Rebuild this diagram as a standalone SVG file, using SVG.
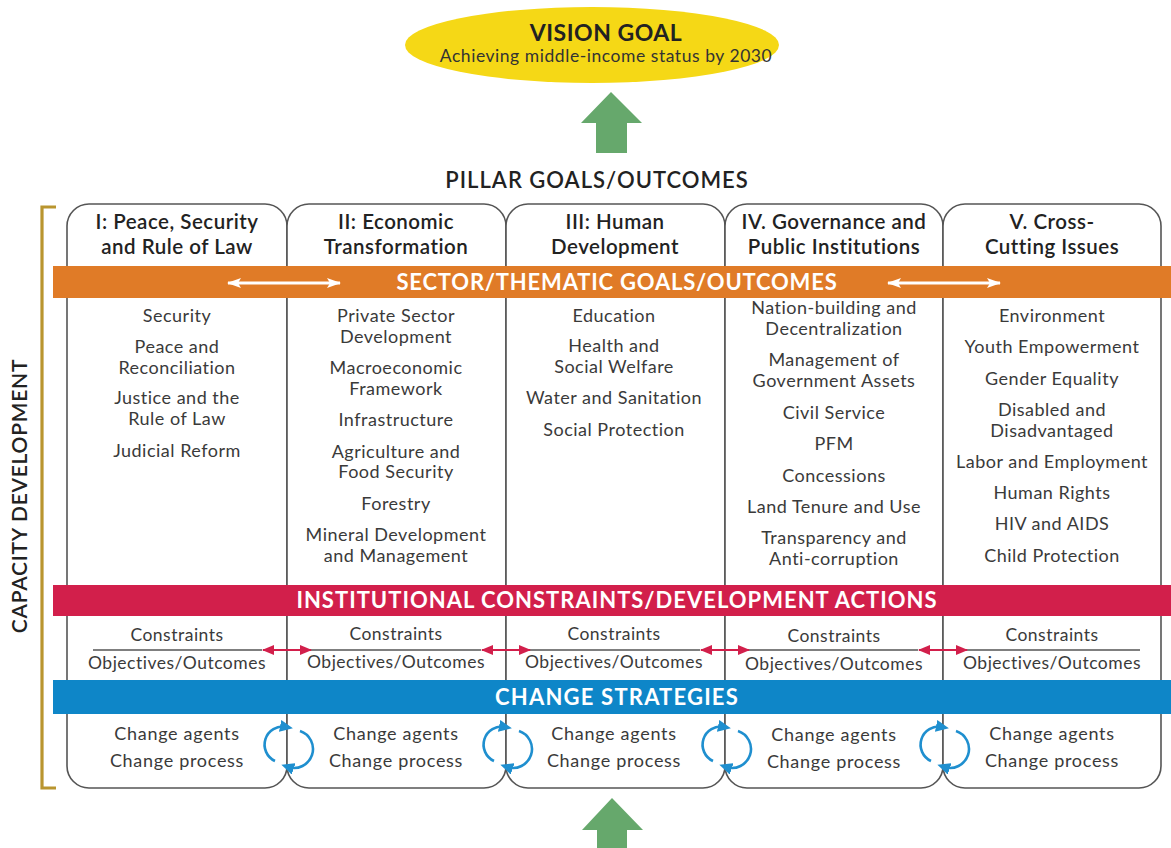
<svg xmlns="http://www.w3.org/2000/svg" width="1171" height="848" viewBox="0 0 1171 848">
<defs>
<style>
text{font-family:Lato,"Open Sans","Liberation Sans",sans-serif;text-anchor:middle}
.col{fill:#fff;stroke:#555;stroke-width:1.6}
.hd{font-size:20.5px;font-weight:600;fill:#222;letter-spacing:0.5px}
.it{font-size:18px;fill:#3a3a3a;letter-spacing:0.5px}
.co{font-size:17.5px;fill:#3a3a3a;letter-spacing:0.5px}
.ch{font-size:18px;fill:#3a3a3a;letter-spacing:0.7px}
.band{font-size:22px;font-weight:700;fill:#fff;letter-spacing:1px}
.sep{stroke:#555;stroke-width:1.6}
.red{stroke:#d21f4b;stroke-width:2;fill:none}
.wht{stroke:#fff;stroke-width:3;fill:none}
.cyc{stroke:#1f8fcf;stroke-width:2.6;fill:none}
.green{fill:#66a86c}
</style>
<marker id="mr" viewBox="0 0 12 10" refX="11" refY="5" markerWidth="12" markerHeight="10" markerUnits="userSpaceOnUse" orient="auto-start-reverse"><path d="M0 0L12 5L0 10z" fill="#d21f4b"/></marker>
<marker id="mw" viewBox="0 0 14 10" refX="13" refY="5" markerWidth="14" markerHeight="10" markerUnits="userSpaceOnUse" orient="auto-start-reverse"><path d="M0 0L14 5L0 10L3 5z" fill="#fff"/></marker>
<marker id="mb" viewBox="0 0 13 12" refX="6" refY="6" markerWidth="13" markerHeight="12" markerUnits="userSpaceOnUse" orient="auto"><path d="M0 0L13 6L0 12z" fill="#1f8fcf"/></marker>
<g id="cycle">
<path class="cyc" d="M-12 15A18 18 0 0 1 -1 -19" marker-end="url(#mb)"/>
<path class="cyc" d="M13 -15A18 18 0 0 1 1 21" marker-end="url(#mb)"/>
</g>
</defs>
<rect width="1171" height="848" fill="#fff"/>

<g id="vision">
<ellipse cx="592" cy="45" rx="187" ry="38" fill="#f5d816"/>
<text x="606" y="41" style="font-size:23px;font-weight:700;fill:#222;letter-spacing:0.5px">VISION GOAL</text>
<text x="606" y="62" style="font-size:17.5px;fill:#333;letter-spacing:0.55px">Achieving middle-income status by 2030</text>
</g>

<g id="pillar-title">
<text x="597" y="188" style="font-size:22px;font-weight:600;fill:#222;letter-spacing:1px">PILLAR GOALS/OUTCOMES</text>
</g>

<g id="capacity">
<path d="M56 207H42V788H56" fill="none" stroke="#b9952f" stroke-width="3.2"/>
<text transform="translate(27,496) rotate(-90)" style="font-size:21px;font-weight:600;fill:#222;letter-spacing:0.75px">CAPACITY DEVELOPMENT</text>
</g>

<g id="col1">
<rect class="col" x="67" y="204" width="220" height="584" rx="22"/>
<text class="hd" x="177" y="229">I: Peace, Security</text>
<text class="hd" x="177" y="254">and Rule of Law</text>
<text class="it" x="177" y="322">Security</text>
<text class="it" x="177" y="353">Peace and</text>
<text class="it" x="177" y="374">Reconciliation</text>
<text class="it" x="177" y="404">Justice and the</text>
<text class="it" x="177" y="425">Rule of Law</text>
<text class="it" x="177" y="457">Judicial Reform</text>
</g>
<g id="col2">
<rect class="col" x="287" y="204" width="219" height="584" rx="22"/>
<text class="hd" x="396" y="229">II: Economic</text>
<text class="hd" x="396" y="254">Transformation</text>
<text class="it" x="396" y="322">Private Sector</text>
<text class="it" x="396" y="343">Development</text>
<text class="it" x="396" y="374">Macroeconomic</text>
<text class="it" x="396" y="395">Framework</text>
<text class="it" x="396" y="426">Infrastructure</text>
<text class="it" x="396" y="458">Agriculture and</text>
<text class="it" x="396" y="478">Food Security</text>
<text class="it" x="396" y="510">Forestry</text>
<text class="it" x="396" y="541">Mineral Development</text>
<text class="it" x="396" y="562">and Management</text>
</g>
<g id="col3">
<rect class="col" x="506" y="204" width="219" height="584" rx="22"/>
<text class="hd" x="615" y="229">III: Human</text>
<text class="hd" x="615" y="254">Development</text>
<text class="it" x="614" y="322">Education</text>
<text class="it" x="614" y="352">Health and</text>
<text class="it" x="614" y="373">Social Welfare</text>
<text class="it" x="614" y="404">Water and Sanitation</text>
<text class="it" x="614" y="436">Social Protection</text>
</g>
<g id="col4">
<rect class="col" x="725" y="204" width="218" height="584" rx="22"/>
<text class="hd" x="834" y="229">IV. Governance and</text>
<text class="hd" x="834" y="254">Public Institutions</text>
<text class="it" x="834" y="314">Nation-building and</text>
<text class="it" x="834" y="335">Decentralization</text>
<text class="it" x="834" y="366">Management of</text>
<text class="it" x="834" y="387">Government Assets</text>
<text class="it" x="834" y="419">Civil Service</text>
<text class="it" x="834" y="450">PFM</text>
<text class="it" x="834" y="482">Concessions</text>
<text class="it" x="834" y="513">Land Tenure and Use</text>
<text class="it" x="834" y="544">Transparency and</text>
<text class="it" x="834" y="565">Anti-corruption</text>
</g>
<g id="col5">
<rect class="col" x="943" y="204" width="218" height="584" rx="22"/>
<text class="hd" x="1052" y="229">V. Cross-</text>
<text class="hd" x="1052" y="254">Cutting Issues</text>
<text class="it" x="1052" y="322">Environment</text>
<text class="it" x="1052" y="353">Youth Empowerment</text>
<text class="it" x="1052" y="385">Gender Equality</text>
<text class="it" x="1052" y="416">Disabled and</text>
<text class="it" x="1052" y="437">Disadvantaged</text>
<text class="it" x="1052" y="468">Labor and Employment</text>
<text class="it" x="1052" y="499">Human Rights</text>
<text class="it" x="1052" y="530">HIV and AIDS</text>
<text class="it" x="1052" y="562">Child Protection</text>
</g>

<g id="band-sector">
<rect x="53" y="266" width="1118" height="32" fill="#e07b27"/>
<text class="band" x="617" y="290" style="letter-spacing:0.8px">SECTOR/THEMATIC GOALS/OUTCOMES</text>
</g>
<g id="band-institutional">
<rect x="53" y="585" width="1118" height="31" fill="#d21f4b"/>
<text class="band" x="617" y="608">INSTITUTIONAL CONSTRAINTS/DEVELOPMENT ACTIONS</text>
</g>
<g id="band-change">
<rect x="53" y="680" width="1118" height="34" fill="#0e86c8"/>
<text class="band" x="617" y="705" style="letter-spacing:1.2px">CHANGE STRATEGIES</text>
</g>

<g id="constraints">
<text class="co" x="177" y="641">Constraints</text>
<text class="co" x="177" y="669">Objectives/Outcomes</text>
<text class="co" x="396" y="640">Constraints</text>
<text class="co" x="396" y="668">Objectives/Outcomes</text>
<text class="co" x="614" y="640">Constraints</text>
<text class="co" x="614" y="668">Objectives/Outcomes</text>
<text class="co" x="834" y="642">Constraints</text>
<text class="co" x="834" y="670">Objectives/Outcomes</text>
<text class="co" x="1052" y="641">Constraints</text>
<text class="co" x="1052" y="669">Objectives/Outcomes</text>
<line class="sep" x1="93" y1="650" x2="262" y2="650"/>
<line class="sep" x1="311" y1="650" x2="481" y2="650"/>
<line class="sep" x1="530" y1="650" x2="700" y2="650"/>
<line class="sep" x1="749" y1="650" x2="918" y2="650"/>
<line class="sep" x1="967" y1="650" x2="1140" y2="650"/>
</g>

<g id="change">
<text class="ch" x="177" y="740">Change agents</text>
<text class="ch" x="177" y="767">Change process</text>
<text class="ch" x="396" y="740">Change agents</text>
<text class="ch" x="396" y="767">Change process</text>
<text class="ch" x="614" y="740">Change agents</text>
<text class="ch" x="614" y="767">Change process</text>
<text class="ch" x="834" y="741">Change agents</text>
<text class="ch" x="834" y="768">Change process</text>
<text class="ch" x="1052" y="740">Change agents</text>
<text class="ch" x="1052" y="767">Change process</text>
</g>

<g id="connectors">
<path class="green" d="M611 92L642 123H627V153H596V123H581Z"/>
<path class="green" d="M612 798L643 830H627V848H597V830H582Z"/>
<line class="wht" x1="228" y1="283" x2="340" y2="283" marker-start="url(#mw)" marker-end="url(#mw)"/>
<line class="wht" x1="888" y1="283" x2="1000" y2="283" marker-start="url(#mw)" marker-end="url(#mw)"/>
<line class="red" x1="263" y1="650" x2="311" y2="650" marker-start="url(#mr)" marker-end="url(#mr)"/>
<line class="red" x1="482" y1="650" x2="530" y2="650" marker-start="url(#mr)" marker-end="url(#mr)"/>
<line class="red" x1="701" y1="650" x2="749" y2="650" marker-start="url(#mr)" marker-end="url(#mr)"/>
<line class="red" x1="919" y1="650" x2="967" y2="650" marker-start="url(#mr)" marker-end="url(#mr)"/>
<use href="#cycle" x="287" y="746"/>
<use href="#cycle" x="506" y="746"/>
<use href="#cycle" x="725" y="746"/>
<use href="#cycle" x="943" y="746"/>
</g>
</svg>
